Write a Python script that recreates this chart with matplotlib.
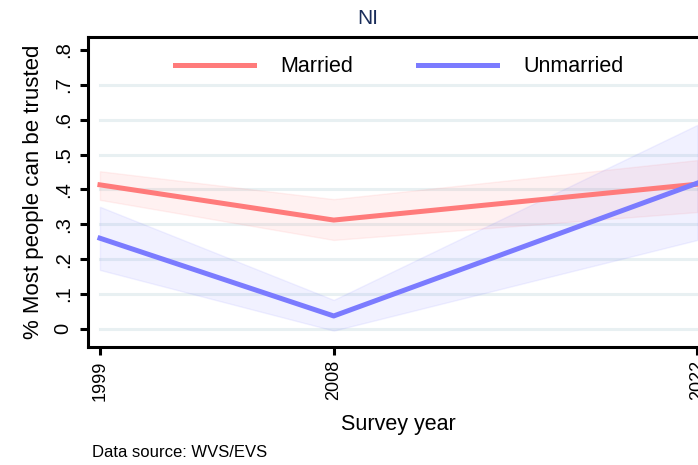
import matplotlib
matplotlib.use("Agg")
import matplotlib.pyplot as plt

plt.rcParams['font.family'] = ['Liberation Sans', 'DejaVu Sans']

years = [1999, 2008, 2022]
married = [0.413, 0.312, 0.415]
married_lo = [0.370, 0.255, 0.335]
married_hi = [0.452, 0.372, 0.484]
unmarried = [0.260, 0.037, 0.418]
unmarried_lo = [0.169, -0.005, 0.255]
unmarried_hi = [0.350, 0.083, 0.585]
yticks = [0, 0.1, 0.2, 0.3, 0.4, 0.5, 0.6, 0.7, 0.8]
ytick_labels = ['0', '.1', '.2', '.3', '.4', '.5', '.6', '.7', '.8']
grid_vals = [0, 0.1, 0.2, 0.3, 0.4, 0.5, 0.6, 0.7]

red = '#ff7b7b'
blue = '#7b7bff'

W, H = 698, 465
fig = plt.figure(figsize=(W / 100, H / 100), dpi=100)
# axes runs to the right edge, like the cropped original
ax = fig.add_axes([88 / W, 1 - 347 / H, 612 / W, (347 - 37) / H])

x0, x1 = 1998.54, 2022.1
ax.set_xlim(x0, x1)
ax.set_ylim(-0.052, 0.837)

for g in grid_vals:
    ax.plot([1999, x1], [g, g], color='#e8f0f2', lw=2.2, zorder=0)

ax.fill_between(years, married_lo, married_hi, color=red, alpha=0.1, lw=1, zorder=1)
ax.fill_between(years, unmarried_lo, unmarried_hi, color=blue, alpha=0.1, lw=1, zorder=1)
ax.plot(years, married, color=red, lw=3.6, label='Married', zorder=3)
ax.plot(years, unmarried, color=blue, lw=3.6, label='Unmarried', zorder=3)

for s in ['top', 'bottom', 'left']:
    ax.spines[s].set_linewidth(2.2)
ax.spines['right'].set_visible(False)

ax.set_yticks(yticks)
ax.set_yticklabels(ytick_labels, rotation=90, va='center', fontsize=14.5)
ax.set_xticks(years)
ax.set_xticklabels([str(y) for y in years], rotation=90, fontsize=13)
ax.tick_params(width=2.2, length=6)
ax.tick_params(axis='y', pad=5)

ax.set_ylabel('% Most people can be trusted', fontsize=16, labelpad=7)

leg = ax.legend(loc='upper left', bbox_to_anchor=(0.11, 1.0), ncol=2, frameon=False,
                fontsize=15.5, handlelength=3.7, columnspacing=3.0, handletextpad=1.2)

fig.text(368 / W, 1 - 19 / H, 'NI', ha='center', va='center', fontsize=15, color='#1a2d5a')
fig.text(398 / W, 1 - 424 / H, 'Survey year', ha='center', va='center', fontsize=15.5)
fig.text(92 / W, 1 - 452 / H, 'Data source: WVS/EVS', ha='left', va='center', fontsize=12)

fig.savefig('out.png', dpi=100)
